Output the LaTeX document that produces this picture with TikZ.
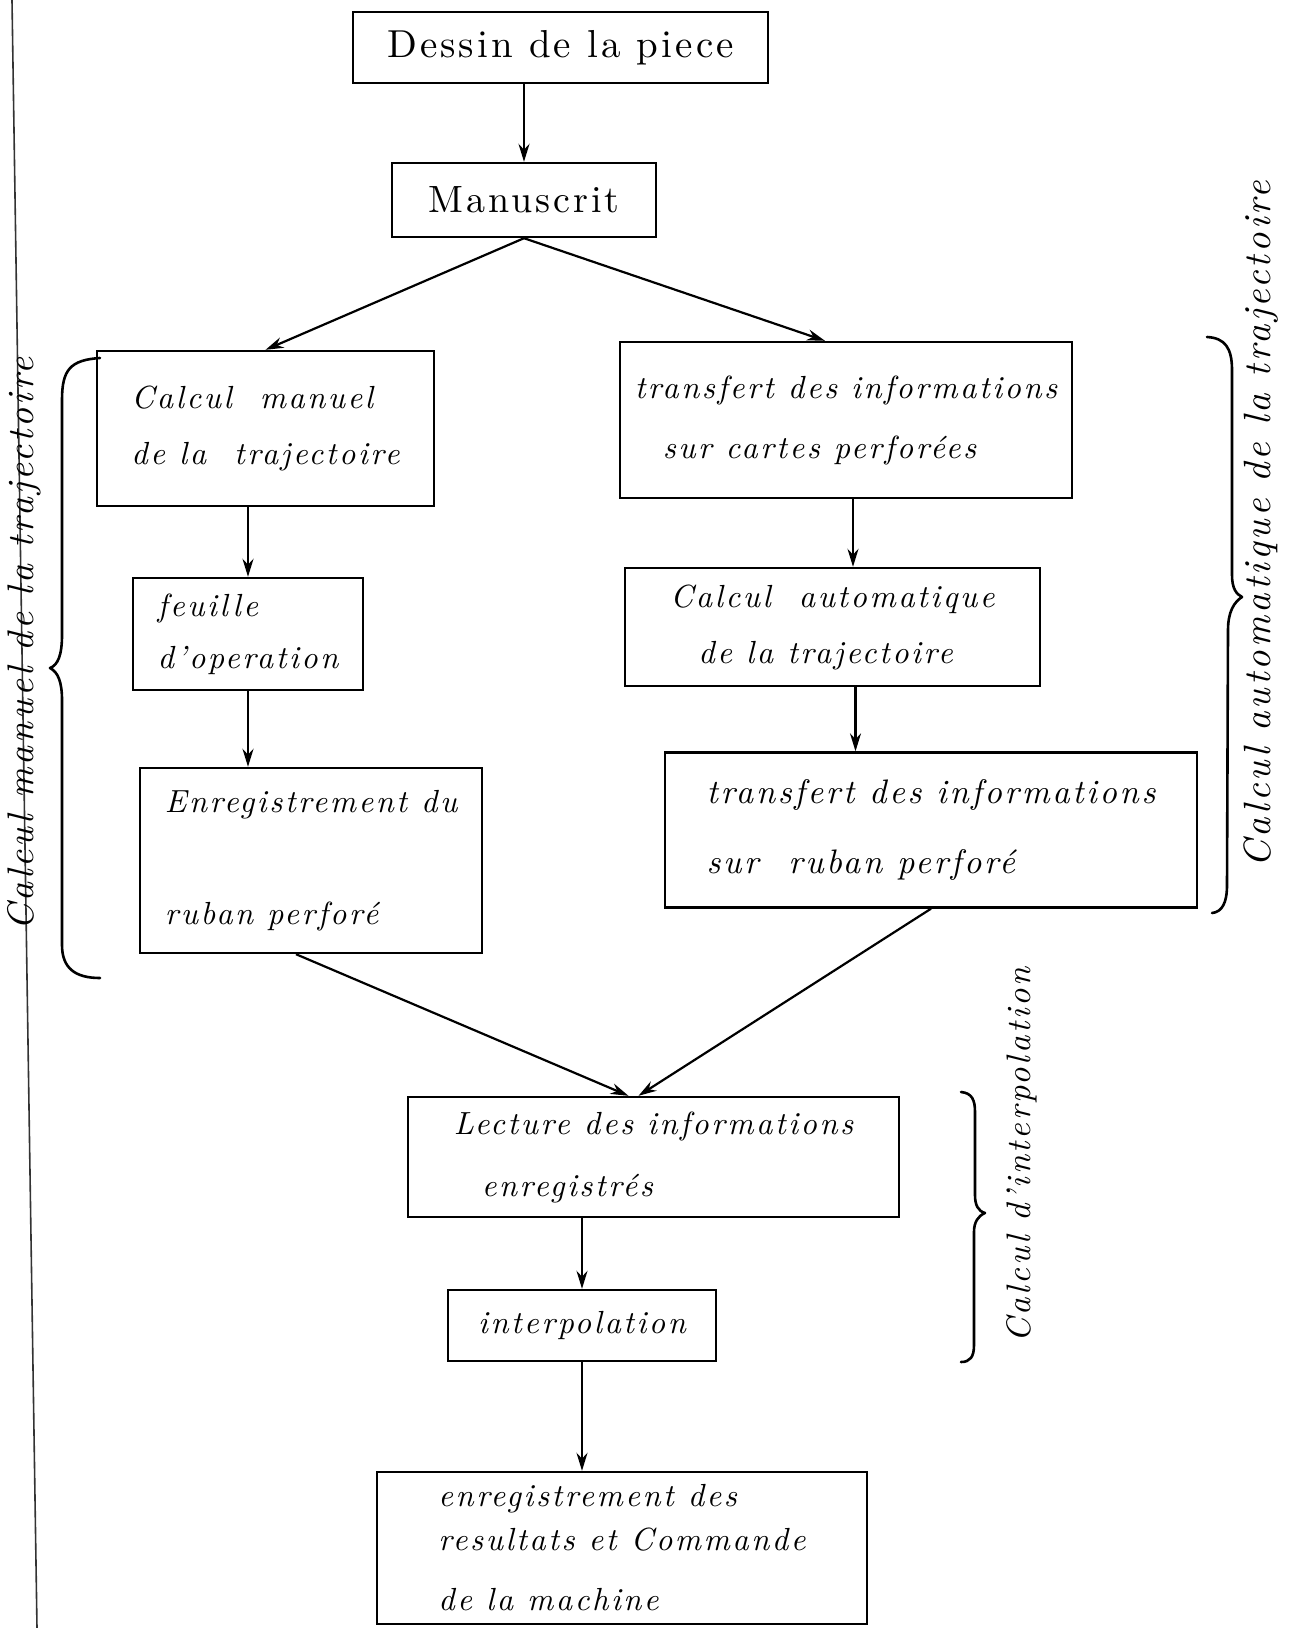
\documentclass[tikz,border=0pt]{standalone}
\usepackage{fontspec}
\usetikzlibrary{arrows.meta,calc}
\newfontfamily\hand{lmroman10}[Extension=.otf,UprightFont=*-regular,ItalicFont=*-italic,LetterSpace=8]
\begin{document}
\begin{tikzpicture}[x=1pt,y=-1pt,
  box/.style={draw,line width=2.4pt,inner sep=0pt,align=left,font=\hand\fontsize{32}{56}\selectfont\itshape},
  upbox/.style={box,font=\hand\fontsize{39}{50}\selectfont\upshape},
  arr/.style={line width=2.2pt,-{Stealth[length=18pt,width=11pt]}},
  brace/.style={line width=2.6pt,line cap=round,line join=round},
  lbl/.style={rotate=90,font=\hand\fontsize{36}{40}\selectfont\itshape,inner sep=0pt}]
\useasboundingbox (0,0) rectangle (1288,1628);
\fill[white] (0,0) rectangle (1288,1628);
% boxes
\node[upbox,minimum width=415pt,minimum height=71pt] (b1) at (560.5,47.5) {Dessin de la piece};
\node[upbox,font=\hand\fontsize{38}{50}\selectfont\upshape,minimum width=264pt,minimum height=74pt] (b2) at (524,200) {Manuscrit};
\node[box,minimum width=337pt,minimum height=155pt] (b3) at (265.5,428.5) {Calcul\ \ manuel\\de la\ \ trajectoire};
\node[box,minimum width=452pt,minimum height=156pt] (b4) at (846,420) {transfert des informations\\[4pt]\ \ sur cartes perforées};
\node[box,minimum width=230pt,minimum height=112pt] (b5) at (248,634) {feuille\\[-4pt]d’operation};
\node[box,minimum width=342pt,minimum height=185pt] (b6) at (311,860.5) {Enregistrement du\\[56pt]ruban perforé};
\node[box,minimum width=415pt,minimum height=118pt] (b7) at (832.5,627) {Calcul\ \ automatique\\\ \ de la trajectoire};
\node[box,font=\hand\fontsize{34}{56}\selectfont\itshape,minimum width=532pt,minimum height=155pt] (b8) at (931,830) {transfert des informations\\[14pt]sur\ \ ruban perforé};
\node[box,minimum width=491pt,minimum height=120pt] (b9) at (653.5,1157) {Lecture des informations\\[6pt]\ \ enregistrés};
\node[box,minimum width=268pt,minimum height=71pt] (b10) at (582,1325.5) {interpolation};
\node[box,minimum width=490pt,minimum height=152pt] (b11) at (622,1548) {enregistrement des\\[-12pt]resultats et Commande\\[4pt]de la machine};
% connectors
\draw[arr] (b2.north |- b1.south) -- (b2.north);
\draw[arr] (b2.south) -- (b3.north);
\draw[arr] (b2.south) -- ([xshift=-21pt]b4.north);
\draw[arr] (b3.south -| b5.north) -- (b5.north);
\draw[arr] (b5.south) -- (b5.south |- b6.north);
\draw[arr] ([xshift=7pt]b4.south) -- ([xshift=7pt]b4.south |- b7.north);
\draw[arr] ([xshift=23pt]b7.south) -- ([xshift=23pt]b7.south |- b8.north);
\draw[arr] ([xshift=-15pt]b6.south) -- ([xshift=-25pt]b9.north);
\draw[arr] (b8.south) -- ([xshift=-15pt]b9.north);
\draw[arr] (b10.north |- b9.south) -- (b10.north);
\draw[arr] (b10.south) -- (b10.south |- b11.north);
% braces
\draw[brace] (100,358) .. controls (70,360) and (62,370) .. (62,400)
  -- (62,635) .. controls (62,655) and (58,665) .. (50,668)
  .. controls (58,672) and (62,682) .. (62,700)
  -- (62,945) .. controls (62,968) and (75,978) .. (100,978);
\draw[brace] (1207,337) .. controls (1225,338) and (1232,348) .. (1232,370)
  -- (1232,575) .. controls (1232,588) and (1236,594) .. (1242,597)
  .. controls (1234,602) and (1228,612) .. (1228,630)
  -- (1227,885) .. controls (1227,903) and (1222,912) .. (1212,913);
\draw[brace] (961,1092) .. controls (972,1093) and (975,1100) .. (975,1112)
  -- (975,1195) .. controls (975,1205) and (978,1211) .. (985,1213)
  .. controls (978,1216) and (974,1222) .. (974,1232)
  -- (974,1345) .. controls (974,1357) and (970,1362) .. (961,1362);
% left page edge line
\draw[line width=1.6pt,black!80] (12,0) -- (37,1628);
% brace labels
\node[lbl,font=\hand\fontsize{37}{40}\selectfont\itshape] (lm) at (24,644) {Calcul manuel de la trajectoire};
\node[lbl,font=\hand\fontsize{38}{40}\selectfont\itshape] (la) at (1261,524) {Calcul automatique de la trajectoire};
\node[lbl,font=\hand\fontsize{34}{40}\selectfont\itshape] (li) at (1022,1155) {Calcul d’interpolation};
\end{tikzpicture}
\end{document}
